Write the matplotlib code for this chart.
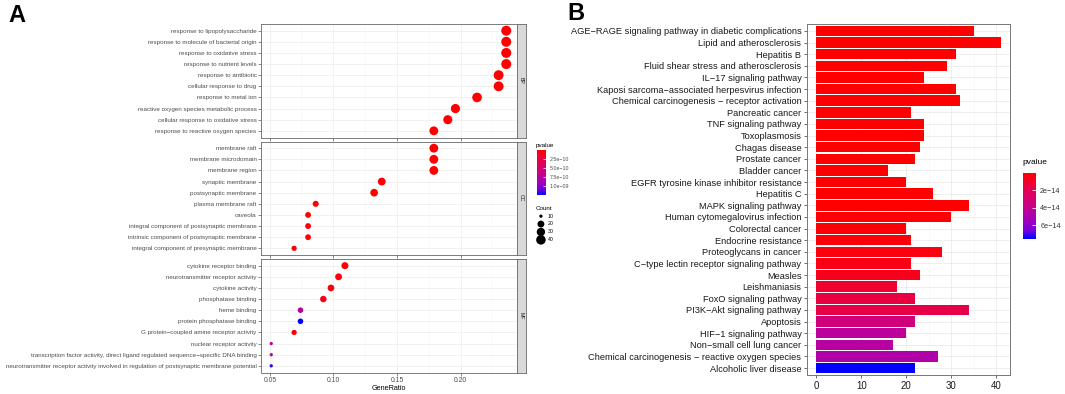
import numpy as np
import matplotlib
matplotlib.use('Agg')
import matplotlib.pyplot as plt
from matplotlib.colors import LinearSegmentedColormap, Normalize

plt.rcParams['font.family'] = ['Liberation Sans', 'DejaVu Sans']

W, H = 1065, 394

# ---- Panel A: GO enrichment (dot plot) ----
bp_terms = ['response to lipopolysaccharide', 'response to molecule of bacterial origin',
            'response to oxidative stress', 'response to nutrient levels', 'response to antibiotic',
            'cellular response to drug', 'response to metal ion',
            'reactive oxygen species metabolic process', 'cellular response to oxidative stress',
            'response to reactive oxygen species']
bp_ratio = [0.236, 0.236, 0.236, 0.236, 0.230, 0.230, 0.213, 0.196, 0.190, 0.179]
bp_count = [45, 45, 45, 45, 44, 44, 41, 37, 36, 34]
bp_p = [2.1e-21, 4.5e-20, 1.3e-19, 6.2e-19, 1.8e-18, 3.9e-18, 9.5e-18, 2.4e-17, 7.7e-17, 1.6e-16]

cc_terms = ['membrane raft', 'membrane microdomain', 'membrane region', 'synaptic membrane',
            'postsynaptic membrane', 'plasma membrane raft', 'caveola',
            'integral component of postsynaptic membrane',
            'intrinsic component of postsynaptic membrane',
            'integral component of presynaptic membrane']
cc_ratio = [0.179, 0.179, 0.179, 0.138, 0.132, 0.086, 0.080, 0.080, 0.080, 0.069]
cc_count = [34, 34, 34, 26, 25, 16, 15, 15, 15, 13]
cc_p = [5.8e-19, 6.9e-19, 8.4e-19, 3.2e-14, 2.7e-13, 4.6e-13, 1.2e-12, 5.5e-12, 8.1e-12, 2.3e-11]

mf_terms = ['cytokine receptor binding', 'neurotransmitter receptor activity', 'cytokine activity',
            'phosphatase binding', 'heme binding', 'protein phosphatase binding',
            'G protein\u2212coupled amine receptor activity', 'nuclear receptor activity',
            'transcription factor activity, direct ligand regulated sequence\u2212specific DNA binding',
            'neurotransmitter receptor activity involved in regulation of postsynaptic membrane potential']
mf_ratio = [0.109, 0.104, 0.098, 0.092, 0.074, 0.074, 0.069, 0.051, 0.051, 0.051]
mf_count = [21, 20, 19, 18, 14, 14, 13, 10, 10, 10]
mf_p = [1.1e-11, 4.0e-11, 6.3e-11, 9.8e-11, 7.4e-10, 1.25e-9, 3.1e-11, 6.6e-10, 6.6e-10, 1.19e-9]

legend_counts = [10, 20, 30, 40]

# ---- Panel B: KEGG enrichment (bar plot) ----
kegg_terms = ['AGE\u2212RAGE signaling pathway in diabetic complications', 'Lipid and atherosclerosis',
              'Hepatitis B', 'Fluid shear stress and atherosclerosis', 'IL\u221217 signaling pathway',
              'Kaposi sarcoma\u2212associated herpesvirus infection',
              'Chemical carcinogenesis \u2212 receptor activation', 'Pancreatic cancer',
              'TNF signaling pathway', 'Toxoplasmosis', 'Chagas disease', 'Prostate cancer',
              'Bladder cancer', 'EGFR tyrosine kinase inhibitor resistance', 'Hepatitis C',
              'MAPK signaling pathway', 'Human cytomegalovirus infection', 'Colorectal cancer',
              'Endocrine resistance', 'Proteoglycans in cancer',
              'C\u2212type lectin receptor signaling pathway', 'Measles', 'Leishmaniasis',
              'FoxO signaling pathway', 'PI3K\u2212Akt signaling pathway', 'Apoptosis',
              'HIF\u22121 signaling pathway', 'Non\u2212small cell lung cancer',
              'Chemical carcinogenesis \u2212 reactive oxygen species', 'Alcoholic liver disease']
kegg_count = [35, 41, 31, 29, 24, 31, 32, 21, 24, 24, 23, 22, 16, 20, 26,
              34, 30, 20, 21, 28, 21, 23, 18, 22, 34, 22, 20, 17, 27, 22]
kegg_p = [1.5e-19, 3.0e-19, 8.4e-19, 1.2e-18, 2.6e-18, 4.1e-18, 6.3e-18, 1.1e-17, 2.4e-17,
          3.5e-17, 6.0e-17, 9.2e-17, 1.4e-16, 2.0e-16, 4.4e-16, 6.1e-16, 1.0e-15, 1.3e-15,
          2.2e-15, 4.0e-15, 5.5e-15, 7.0e-15, 1.2e-14, 1.6e-14, 1.75e-14, 3.3e-14, 4.3e-14,
          4.5e-14, 4.8e-14, 7.55e-14]

# red -> blue gradient (Lab-like, as in ggplot)
cmap = LinearSegmentedColormap.from_list(
    'redblue', [(0, '#FF0000'), (0.25, '#E5004E'), (0.5, '#C90089'),
                (0.75, '#9A00C3'), (0.875, '#7300E0'), (1, '#0000FF')])


def box(x0, y0, x1, y1):
    # pixel box (origin top-left) -> figure rect
    return [x0 / W, 1 - y1 / H, (x1 - x0) / W, (y1 - y0) / H]


def dot_size(c):
    d = 3.3 + 6.7 * np.sqrt((np.asarray(c, dtype=float) - 10) / 35)
    return (d * 0.72) ** 2


fig = plt.figure(figsize=(W / 100, H / 100), dpi=100)

normA = Normalize(0, 1.25e-9)
groups = [('BP', bp_terms, bp_ratio, bp_count, bp_p, 24.0),
          ('CC', cc_terms, cc_ratio, cc_count, cc_p, 141.5),
          ('MF', mf_terms, mf_ratio, mf_count, mf_p, 259.0)]
for i, (name, terms, ratio, count, pv, top) in enumerate(groups):
    ax = fig.add_axes(box(260.7, top, 517.3, top + 113.5))
    y = np.arange(len(terms))
    sc = ax.scatter(ratio, y, s=dot_size(count), c=pv, cmap=cmap, norm=normA,
                    edgecolors='none', zorder=3)
    ax.set_xlim(0.0427, 0.2447)
    ax.set_ylim(len(terms) - 1 + 0.6, -0.6)
    ax.set_yticks(y)
    ax.set_yticklabels(terms, fontsize=4.5, color='#4D4D4D')
    ax.set_xticks([0.05, 0.10, 0.15, 0.20])
    ax.set_xticks([0.075, 0.125, 0.175, 0.225], minor=True)
    ax.grid(True, which='major', color='#EBEBEB', lw=0.5)
    ax.grid(True, which='minor', axis='x', color='#F3F3F3', lw=0.3)
    ax.set_axisbelow(True)
    ax.tick_params(length=2, width=0.4, color='#333333', pad=1)
    ax.tick_params(which='minor', length=0)
    for sp in ax.spines.values():
        sp.set_color('#666666')
        sp.set_linewidth(0.6)
    if i < 2:
        ax.set_xticklabels([])
    else:
        ax.set_xticklabels(['0.05', '0.10', '0.15', '0.20'], fontsize=4.9, color='#4D4D4D')
        ax.set_xlabel('GeneRatio', fontsize=5.2, labelpad=1)
    sax = fig.add_axes(box(517.3, top, 525.5, top + 113.5))
    sax.set_facecolor('#D9D9D9')
    sax.set_xticks([])
    sax.set_yticks([])
    for sp in sax.spines.values():
        sp.set_color('#666666')
        sp.set_linewidth(0.6)
    sax.text(0.5, 0.5, name, rotation=-90, ha='center', va='center', fontsize=3.8,
             color='#1A1A1A', transform=sax.transAxes)
    if name == 'CC':
        handles = [ax.scatter([], [], s=dot_size(c), color='black', edgecolors='none', label=str(c))
                   for c in legend_counts]
        lg = ax.legend(handles=handles, loc='upper left', bbox_to_anchor=(533 / W, 1 - 203 / H),
                       bbox_transform=fig.transFigure, frameon=False, title='Count', fontsize=3.8,
                       title_fontsize=4.5, labelspacing=0.55, handletextpad=0.3,
                       borderpad=0, alignment='left')

caxA = fig.add_axes(box(536.5, 150, 545.5, 195))
cbA = fig.colorbar(sc, cax=caxA)
cbA.outline.set_visible(False)
caxA.invert_yaxis()
cbA.set_ticks([2.5e-10, 5.0e-10, 7.5e-10, 1.0e-9])
cbA.set_ticklabels(['2.5e\u221210', '5.0e\u221210', '7.5e\u221210', '1.0e\u221209'])
caxA.tick_params(labelsize=3.8, direction='in', color='white', length=2, width=0.5,
                 labelcolor='#4D4D4D', pad=3)
fig.text(535.5 / W, 1 - 145 / H, 'pvalue', fontsize=4.5, va='center', ha='left')

# ---- Panel B ----
normB = Normalize(min(kegg_p), max(kegg_p))
axB = fig.add_axes(box(807, 24, 1010, 375))
yb = np.arange(len(kegg_terms))
axB.barh(yb, kegg_count, height=0.9, color=cmap(normB(np.array(kegg_p))), zorder=3)
axB.set_ylim(len(kegg_terms) - 1 + 0.6, -0.6)
axB.set_xlim(-2.05, 43.05)
axB.set_yticks(yb)
axB.set_yticklabels(kegg_terms, fontsize=6.7, color='#1A1A1A')
axB.set_xticks([0, 10, 20, 30, 40])
axB.set_xticks([5, 15, 25, 35], minor=True)
axB.set_xticklabels(['0', '10', '20', '30', '40'], fontsize=6.9, color='#1A1A1A')
axB.grid(True, which='major', color='#EBEBEB', lw=0.6)
axB.grid(True, which='minor', axis='x', color='#F3F3F3', lw=0.4)
axB.set_axisbelow(True)
axB.tick_params(length=2.5, width=0.5, color='#333333', pad=1.5)
axB.tick_params(which='minor', length=0)
for sp in axB.spines.values():
    sp.set_color('#777777')
    sp.set_linewidth(0.7)

caxB = fig.add_axes(box(1023, 173, 1036, 239))
cbB = fig.colorbar(plt.cm.ScalarMappable(norm=normB, cmap=cmap), cax=caxB)
cbB.outline.set_visible(False)
caxB.invert_yaxis()
cbB.set_ticks([2e-14, 4e-14, 6e-14])
cbB.set_ticklabels(['2e\u221214', '4e\u221214', '6e\u221214'])
caxB.tick_params(labelsize=5.2, direction='in', color='white', length=3, width=0.6,
                 labelcolor='#333333', pad=3)
fig.text(1022 / W, 1 - 162 / H, 'pvalue', fontsize=6, va='center', ha='left')

fig.text(8 / W, 1 - 15 / H, 'A', fontsize=17, fontweight='bold', va='center', ha='left')
fig.text(567 / W, 1 - 13 / H, 'B', fontsize=17, fontweight='bold', va='center', ha='left')

fig.savefig('out.png', dpi=100)
